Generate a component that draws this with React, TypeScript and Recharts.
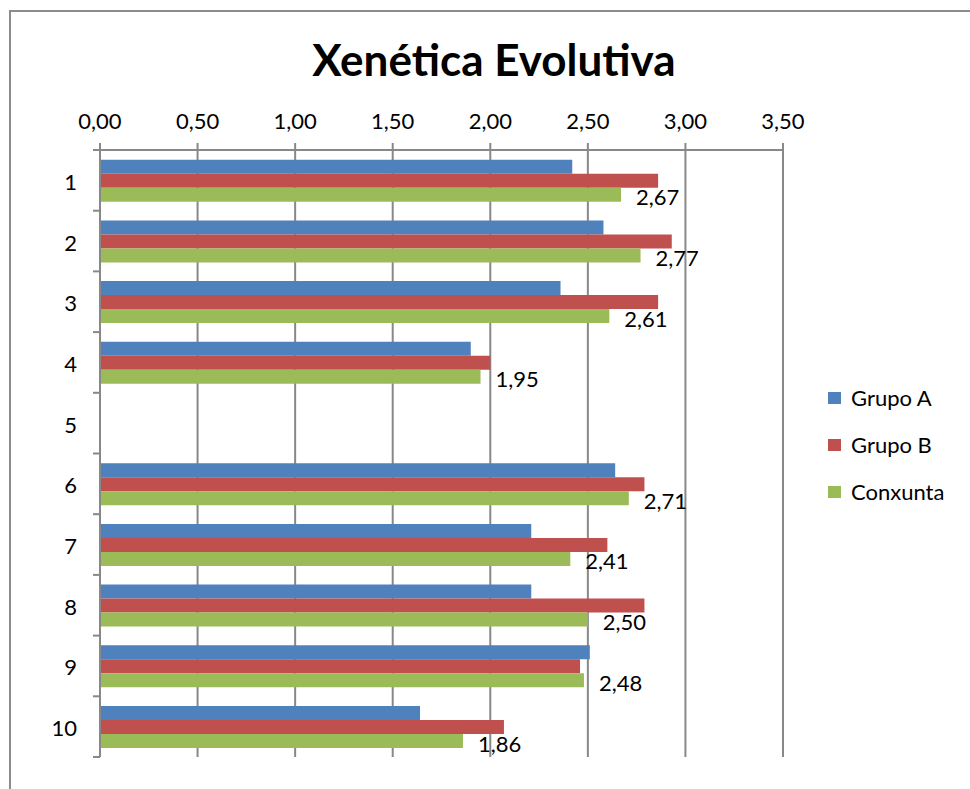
import {
  BarChart,
  Bar,
  XAxis,
  YAxis,
  CartesianGrid,
  Legend,
  LabelList,
} from "recharts";

const categories = ["1", "2", "3", "4", "5", "6", "7", "8", "9", "10"];
const grupoA = [2.42, 2.58, 2.36, 1.9, null, 2.64, 2.21, 2.21, 2.51, 1.64];
const grupoB = [2.86, 2.93, 2.86, 2.0, null, 2.79, 2.6, 2.79, 2.46, 2.07];
const conxunta = [2.67, 2.77, 2.61, 1.95, null, 2.71, 2.41, 2.5, 2.48, 1.86];
const xTicks = [0, 0.5, 1, 1.5, 2, 2.5, 3, 3.5];

const series = [
  { key: "grupoA", name: "Grupo A", color: "#4F81BD" },
  { key: "grupoB", name: "Grupo B", color: "#C0504D" },
  { key: "conxunta", name: "Conxunta", color: "#9BBB59" },
];

const data = categories.map((c, i) => ({
  cat: c,
  grupoA: grupoA[i],
  grupoB: grupoB[i],
  conxunta: conxunta[i],
}));

const FONT = "Lato, 'Open Sans', sans-serif";
const AXIS = "#888888";
const PLOT_TOP = 150;
const PLOT_BOTTOM = 757;
const PLOT_LEFT = 100;
const BAND = (PLOT_BOTTOM - PLOT_TOP) / categories.length;

const fmt = (v: number) => v.toFixed(2).replace(".", ",");

function CatTick(props: any) {
  const { x, y, payload, index } = props;
  return (
    <g>
      <text
        x={x}
        y={y + 1}
        textAnchor="end"
        dominantBaseline="central"
        fontSize={22}
        fontFamily={FONT}
        fill="#000"
      >
        {payload.value}
      </text>
      <line x1={PLOT_LEFT - 7} x2={PLOT_LEFT} y1={y + BAND / 2} y2={y + BAND / 2} stroke={AXIS} strokeWidth={2} />
      {index === 0 && (
        <line x1={PLOT_LEFT - 7} x2={PLOT_LEFT} y1={y - BAND / 2} y2={y - BAND / 2} stroke={AXIS} strokeWidth={2} />
      )}
    </g>
  );
}

function ValueLabel(props: any) {
  const { x, y, width, height, value } = props;
  if (value == null) return null;
  return (
    <text
      x={x + width + 15}
      y={y + height / 2 + 2}
      dominantBaseline="central"
      fontSize={22}
      fontFamily={FONT}
      fill="#000"
    >
      {fmt(value)}
    </text>
  );
}

function LegendBox() {
  return (
    <div style={{ fontFamily: FONT, fontSize: 22, color: "#000" }}>
      {series.map((s) => (
        <div key={s.key} style={{ display: "flex", alignItems: "center", height: 47 }}>
          <span style={{ width: 13, height: 12, background: s.color, marginRight: 10, display: "inline-block" }} />
          {s.name}
        </div>
      ))}
    </div>
  );
}

export default function App() {
  return (
    <div style={{ position: "fixed", left: 0, top: 0, width: 970, height: 789, background: "#fff", overflow: "hidden" }}>
      <div
        style={{
          position: "absolute",
          left: 9,
          top: 10,
          right: -4,
          bottom: -4,
          borderLeft: "2px solid #8c8c8c",
          borderTop: "2px solid #8c8c8c",
        }}
      />
      <div
        style={{
          position: "absolute",
          left: 0,
          width: 988,
          top: 33,
          textAlign: "center",
          fontFamily: FONT,
          fontWeight: 700,
          fontSize: 44,
          color: "#000",
        }}
      >
        Xenética Evolutiva
      </div>
      <BarChart
        width={970}
        height={789}
        data={data}
        layout="vertical"
        margin={{ top: 110, left: 20, right: 187, bottom: 32 }}
        barCategoryGap="16%"
        barGap={0}
        style={{ position: "absolute", left: 0, top: 0 }}
      >
        <CartesianGrid horizontal={false} stroke={AXIS} strokeWidth={2} />
        <XAxis
          type="number"
          orientation="top"
          domain={[0, 3.5]}
          ticks={xTicks}
          height={40}
          tickSize={7}
          tickMargin={14}
          tickFormatter={fmt}
          tick={{ fontSize: 22, fontFamily: FONT, fill: "#000" }}
          axisLine={{ stroke: AXIS, strokeWidth: 2 }}
          tickLine={{ stroke: AXIS, strokeWidth: 2 }}
          interval={0}
        />
        <YAxis
          type="category"
          dataKey="cat"
          width={80}
          tickLine={false}
          tickSize={6}
          tickMargin={17}
          tick={<CatTick />}
          axisLine={{ stroke: AXIS, strokeWidth: 2 }}
          interval={0}
        />
        <Legend
          layout="vertical"
          align="center"
          verticalAlign="middle"
          content={<LegendBox />}
          wrapperStyle={{ position: "absolute", left: 828, top: 374, width: 140 }}
        />
        {series.map((s) => (
          <Bar key={s.key} dataKey={s.key} name={s.name} fill={s.color} isAnimationActive={false}>
            {s.key === "conxunta" && <LabelList dataKey="conxunta" content={<ValueLabel />} />}
          </Bar>
        ))}
      </BarChart>
    </div>
  );
}
